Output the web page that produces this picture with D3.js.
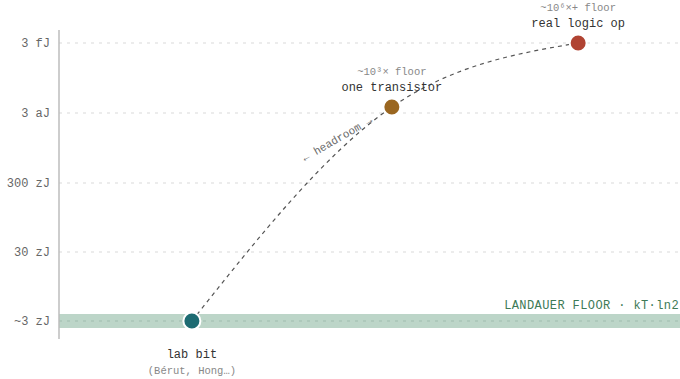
<!DOCTYPE html>
<html><head><meta charset="utf-8">
<script src="https://cdn.jsdelivr.net/npm/d3@7"></script>
<style>
html,body{margin:0;padding:0;background:#fff;}
svg{display:block;font-family:"Liberation Mono","DejaVu Sans Mono",monospace;}
</style></head>
<body><svg id="c" width="680" height="379"></svg>
<script>
// tick values in zJ and their labels
const tickValues = [3, 30, 300, 3000, 3000000];
const tickLabels = ["~3 zJ", "30 zJ", "300 zJ", "3 aJ", "3 fJ"];
// points
const pointNames = ["lab bit", "one transistor", "real logic op"];
const pointNotes = ["(Bérut, Hong…)", "~10³× floor", "~10⁶×+ floor"];
const pointX = [0.214, 0.536, 0.836];
const pointEnergy = [3, 5400, 3000000];
const pointColors = ["#1d6b72", "#9a6620", "#b04332"];
const floorValue = 3;

const svg = d3.select("#c");
const left = 59, right = 680;
const x = d3.scaleLinear().domain([0, 1]).range([left, right]);
const y = d3.scaleLog().domain(tickValues).range([321, 252, 183, 113, 43]);

// floor band
svg.append("rect").attr("x", left).attr("width", right - left)
  .attr("y", y(floorValue) - 7).attr("height", 14).attr("fill", "#bcd5c8");

// gridlines
svg.append("g").selectAll("line").data(tickValues).join("line")
  .attr("x1", left).attr("x2", right)
  .attr("y1", d => y(d)).attr("y2", d => y(d))
  .attr("stroke", (d) => d === floorValue ? "#9fbcae" : "#d9d9d9")
  .attr("stroke-width", 1).attr("stroke-dasharray", "3,5");

// y axis
const yAxis = d3.axisLeft(y).tickValues(tickValues)
  .tickFormat((d, i) => tickLabels[i]).tickSize(0).tickPadding(9);
const ga = svg.append("g").attr("transform", `translate(${left},0)`).call(yAxis);
ga.select(".domain").remove();
ga.selectAll("text").attr("font-size", 12).attr("fill", "#666")
  .attr("font-family", "Liberation Mono, DejaVu Sans Mono, monospace");
svg.append("line").attr("x1", left).attr("x2", left).attr("y1", 30).attr("y2", 339)
  .attr("stroke", "#bdbdbd").attr("stroke-width", 1.5);

// landauer label
svg.append("text").attr("x", 679).attr("y", 309).attr("text-anchor", "end")
  .attr("font-size", 12).attr("letter-spacing", 0.4).attr("fill", "#3d7a56")
  .text("LANDAUER FLOOR · kT·ln2");

// curve
const pts = pointX.map((v, i) => [x(v), y(pointEnergy[i])]);
const line = d3.line().curve(d3.curveMonotoneX);
svg.append("path").attr("d", line(pts)).attr("fill", "none")
  .attr("stroke", "#555").attr("stroke-width", 1.2).attr("stroke-dasharray", "4,4");

// headroom label
svg.append("text").attr("transform", "translate(339,142) rotate(-30)")
  .attr("text-anchor", "middle").attr("font-size", 11).attr("fill", "#6a6a6a")
  .text("← headroom →");

// points
svg.append("g").selectAll("circle").data(pts).join("circle")
  .attr("cx", d => d[0]).attr("cy", d => d[1]).attr("r", 8.5)
  .attr("fill", (d, i) => pointColors[i]).attr("stroke", "#fff").attr("stroke-width", 2);

// labels
pts.forEach((p, i) => {
  if (i === 0) {
    svg.append("text").attr("x", p[0]).attr("y", p[1] + 37).attr("text-anchor", "middle")
      .attr("font-size", 12).attr("fill", "#333").text(pointNames[i]);
    svg.append("text").attr("x", p[0]).attr("y", p[1] + 53).attr("text-anchor", "middle")
      .attr("font-size", 10.5).attr("fill", "#888").text(pointNotes[i]);
  } else {
    svg.append("text").attr("x", p[0]).attr("y", p[1] - 16).attr("text-anchor", "middle")
      .attr("font-size", 12).attr("fill", "#333").text(pointNames[i]);
    svg.append("text").attr("x", p[0]).attr("y", p[1] - 32).attr("text-anchor", "middle")
      .attr("font-size", 10.5).attr("fill", "#888").text(pointNotes[i]);
  }
});
</script></body></html>
